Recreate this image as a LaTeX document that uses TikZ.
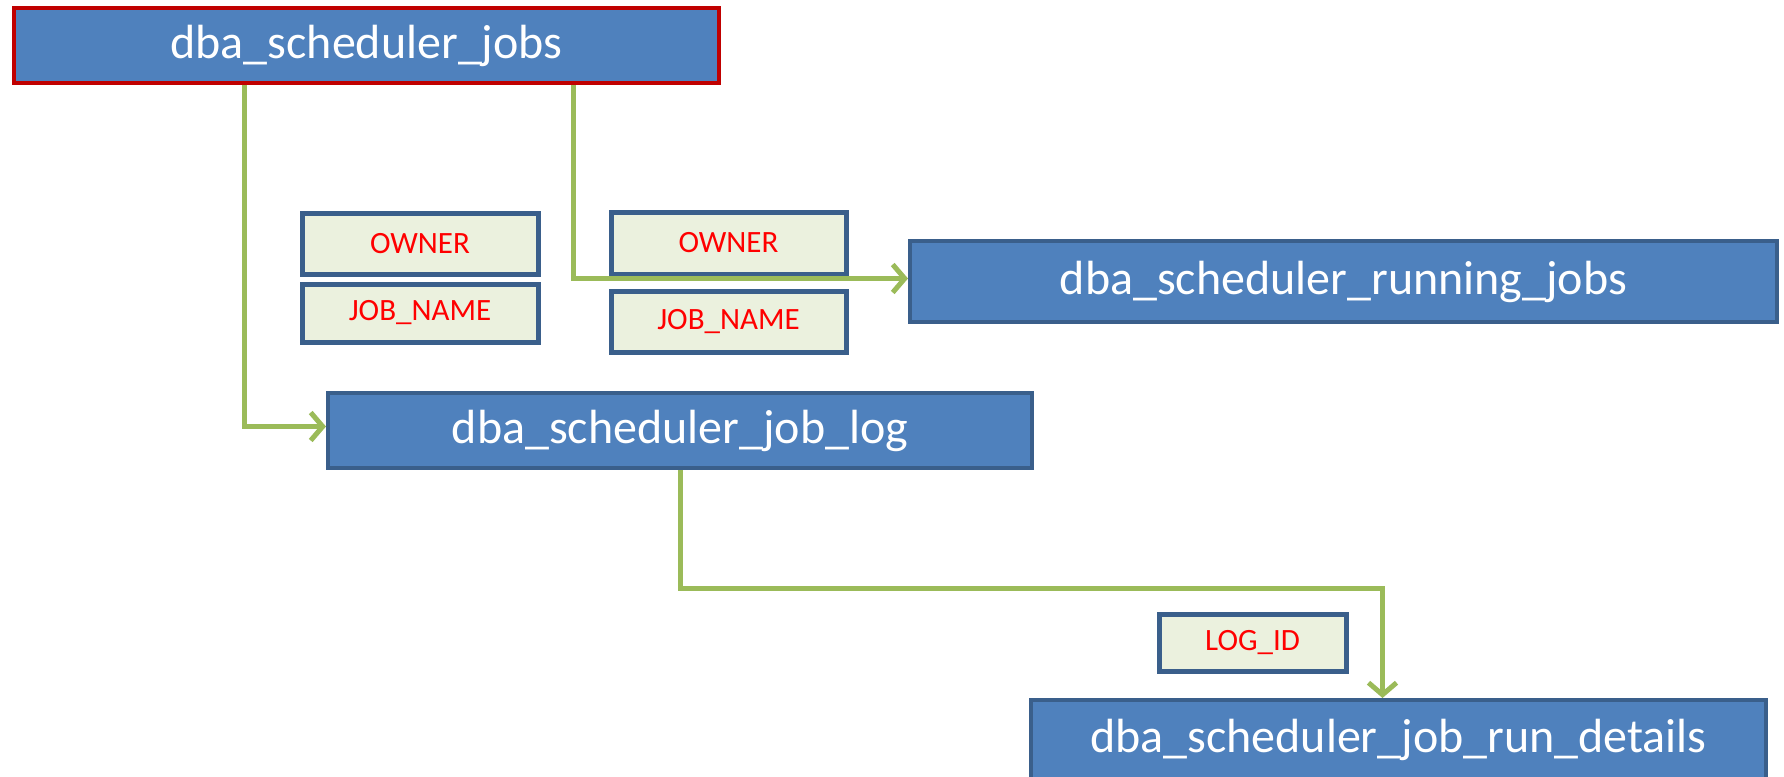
\documentclass[tikz,border=0pt]{standalone}
\usepackage{fontspec}
\setmainfont{Carlito}
\usetikzlibrary{arrows.meta}
\definecolor{tblfill}{HTML}{4F81BD}
\definecolor{tblline}{HTML}{3A5F8B}
\definecolor{keyfill}{HTML}{EBF1DE}
\definecolor{linkgreen}{HTML}{9BBB59}
\definecolor{mainred}{HTML}{C00000}
\begin{document}
\begin{tikzpicture}[x=1pt,y=-1pt,
  tbl/.style={draw=tblline, line width=4pt, fill=tblfill, text=white, inner sep=0pt,
    font=\fontsize{48}{56}\selectfont},
  keybox/.style={draw=tblline, line width=5pt, fill=keyfill, text=red, inner sep=0pt,
    font=\fontsize{31}{36}\selectfont},
  link/.style={draw=linkgreen, line width=5pt,
    -{Straight Barb[length=12pt,width=28pt,line width=5pt]}}]
  \useasboundingbox (0,0) rectangle (1784,776);

  \node[tbl, draw=mainred, minimum width=705pt, minimum height=75pt] (jobs) at (366.5,45.5) {dba\_scheduler\_jobs};
  \node[tbl, minimum width=867pt, minimum height=81pt] (running) at (1343.5,281.5) {dba\_scheduler\_running\_jobs};
  \node[tbl, minimum width=704pt, minimum height=75pt] (joblog) at (680,430.5) {dba\_scheduler\_job\_log};
  \node[tbl, minimum width=735pt, minimum height=80pt] (details) at (1398.5,740) {dba\_scheduler\_job\_run\_details};

  \node[keybox, minimum width=236pt, minimum height=61pt] (ownerA) at (420,243.5) {OWNER};
  \node[keybox, minimum width=236pt, minimum height=58pt] (jobnameA) at (420,313) {JOB\_NAME};
  \node[keybox, minimum width=235pt, minimum height=62pt] (ownerB) at (728.5,243) {OWNER};
  \node[keybox, minimum width=235pt, minimum height=61pt] (jobnameB) at (728.5,321.5) {JOB\_NAME};
  \node[keybox, minimum width=187pt, minimum height=57pt] (logid) at (1252.5,642.5) {LOG\_ID};

  \draw[link] ([xshift=232pt]jobs.south west) |- ([yshift=4pt]joblog.west);
  \draw[link] ([xshift=561pt]jobs.south west) |- ([yshift=3pt]running.west);
  \draw[link] (joblog.south) -- ++(0,118) -| ([xshift=-16pt]details.north);
\end{tikzpicture}
\end{document}
